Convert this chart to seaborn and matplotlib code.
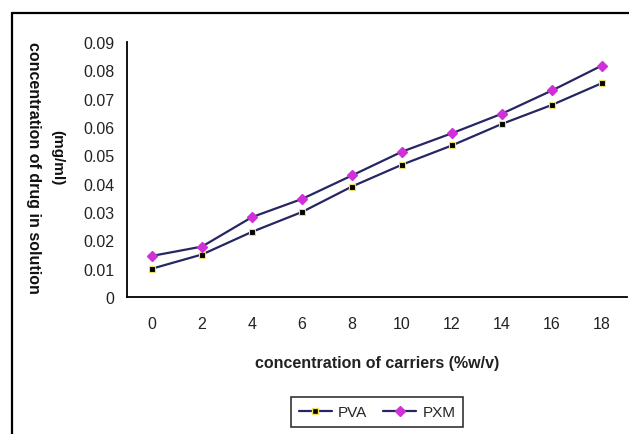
import matplotlib
matplotlib.use("Agg")
import matplotlib.pyplot as plt
from matplotlib.lines import Line2D
import seaborn as sns
import pandas as pd
import numpy as np

carriers = ["0", "2", "4", "6", "8", "10", "12", "14", "16", "18"]
pva = [0.0100, 0.0150, 0.0230, 0.0300, 0.0390, 0.0467, 0.0535, 0.0611, 0.0678, 0.0755]
pxm = [0.0145, 0.0178, 0.0282, 0.0346, 0.0429, 0.0513, 0.0578, 0.0647, 0.0729, 0.0817]
yticks = [0, 0.01, 0.02, 0.03, 0.04, 0.05, 0.06, 0.07, 0.08, 0.09]
ytick_labels = ["0", "0.01", "0.02", "0.03", "0.04", "0.05", "0.06", "0.07", "0.08", "0.09"]

sns.set_theme(style="white")
plt.rcParams["font.family"] = ["Liberation Sans", "DejaVu Sans"]

df = pd.DataFrame({
    "pos": list(range(len(carriers))) * 2,
    "value": pva + pxm,
    "series": ["PVA"] * len(pva) + ["PXM"] * len(pxm),
})

fig = plt.figure(figsize=(6.29, 4.35), dpi=100)
ax = fig.add_axes([127 / 629, 1 - 298 / 435, 500 / 629, (298 - 43) / 435])

line_color = "#262663"
sns.lineplot(data=df, x="pos", y="value", hue="series",
             palette={"PVA": line_color, "PXM": line_color},
             ax=ax, legend=False, linewidth=1.6)
# markers
ax.plot(range(len(carriers)), pva, linestyle="none", marker="s", markersize=4,
        markerfacecolor="black", markeredgecolor="#f0e060", markeredgewidth=0.8)
ax.plot(range(len(carriers)), pxm, linestyle="none", marker="D", markersize=5.5,
        markerfacecolor="#d030d8", markeredgecolor="#d030d8")

ax.set_xlim(-0.5, len(carriers) - 0.5)
ax.set_ylim(0, 0.09)
ax.set_yticks(yticks)
ax.set_yticklabels(ytick_labels, fontsize=11.5, color="#222222")
ax.set_xticks(np.arange(-0.5, len(carriers), 1.0))
ax.set_xticklabels([])
ax.set_xticks(range(len(carriers)), minor=True)
ax.set_xticklabels(carriers, minor=True, fontsize=11.5, color="#222222")
ax.tick_params(axis="x", which="major", direction="out", length=6, width=1.2, color="black")
ax.tick_params(axis="x", which="minor", length=0, pad=14)
ax.tick_params(axis="y", direction="out", length=5, width=1.2, color="black", pad=4)
ax.set_xlabel("concentration of carriers (%w/v)", fontsize=11.5, fontweight="bold",
              labelpad=17, color="#222222")
ax.set_ylabel("")
for s in ["top", "right"]:
    ax.spines[s].set_visible(False)
for s in ["left", "bottom"]:
    ax.spines[s].set_color("black")
    ax.spines[s].set_linewidth(1.3)

# y label (two rotated lines)
fig.text(33 / 629, 1 - 168 / 435, "concentration of drug in solution", rotation=270,
         ha="center", va="center", fontsize=11.5, fontweight="bold", color="#111111")
fig.text(57 / 629, 1 - 158 / 435, "(mg/ml)", rotation=270,
         ha="center", va="center", fontsize=11, fontweight="bold", color="#111111")

# legend
h1 = Line2D([], [], color=line_color, linewidth=1.6, marker="s", markersize=4,
            markerfacecolor="black", markeredgecolor="#f0e060")
h2 = Line2D([], [], color=line_color, linewidth=1.6, marker="D", markersize=5.5,
            markerfacecolor="#d030d8", markeredgecolor="#d030d8")
leg = fig.legend([h1, h2], ["PVA", "PXM"], loc="center", bbox_to_anchor=(377 / 629, 1 - 413 / 435),
                 ncol=2, frameon=True, fancybox=False, fontsize=11, handlelength=2.2,
                 columnspacing=1.0, handletextpad=0.4, borderpad=0.5)
leg.get_frame().set_edgecolor("black")
leg.get_frame().set_linewidth(1.2)

# outer frame lines (top and left)
fig.add_artist(Line2D([12 / 629, 1], [1 - 14 / 435, 1 - 14 / 435], color="black",
                      linewidth=1.6, transform=fig.transFigure))
fig.add_artist(Line2D([12 / 629, 12 / 629], [0, 1 - 14 / 435], color="black",
                      linewidth=1.6, transform=fig.transFigure))

fig.savefig("out.png", dpi=100)
